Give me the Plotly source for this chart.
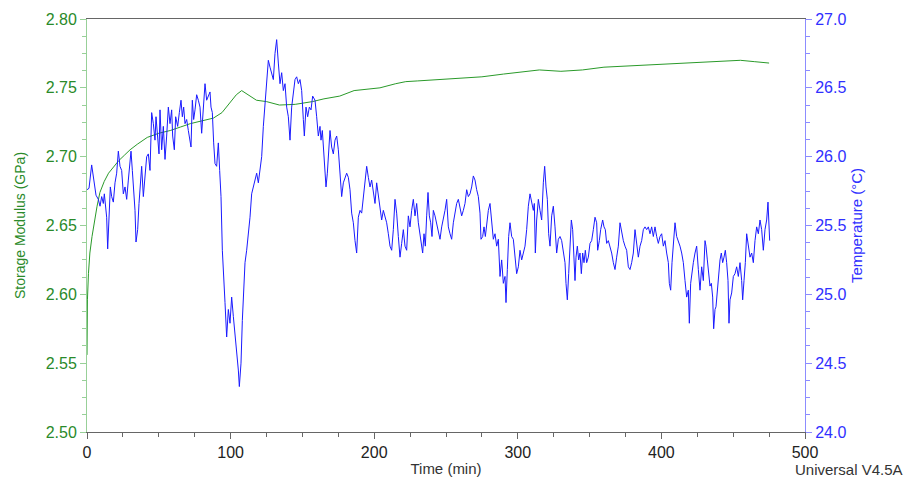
import plotly.graph_objects as go

# Storage modulus (GPa) vs time (min)
mod_time = [0, 0.3, 1, 2, 3.5, 5, 7, 9, 12, 15, 18, 22, 26, 30, 35, 42, 50, 58, 65, 72, 80, 88, 94,
            100, 104, 107.7, 112, 118, 125, 134, 145, 157, 165, 176, 186, 195, 204, 215, 222, 230,
            245, 260, 275, 290, 300, 315, 330, 345, 360, 380, 400, 420, 440, 455, 465, 475]
mod_val = [2.556, 2.596, 2.615, 2.630, 2.642, 2.652, 2.664, 2.674, 2.682, 2.688, 2.692, 2.697, 2.701,
           2.705, 2.709, 2.714, 2.717, 2.719, 2.7215, 2.724, 2.726, 2.728, 2.732, 2.740, 2.745, 2.748,
           2.745, 2.741, 2.740, 2.7375, 2.738, 2.740, 2.742, 2.744, 2.748, 2.749, 2.750, 2.753, 2.7545,
           2.755, 2.756, 2.757, 2.758, 2.760, 2.761, 2.763, 2.762, 2.763, 2.765, 2.766, 2.767, 2.768,
           2.769, 2.770, 2.769, 2.768]

# Temperature (°C) vs time (min)
temp_time = [0, 1.39, 3.25, 4.41, 6.27, 7.89, 9.05, 10.22, 11.38, 12.07, 13.0, 13.7, 14.4, 15.32, 16.25,
             17.18, 18.34, 19.5, 20.66, 21.82, 22.98, 24.14, 25.3, 26.47, 27.63, 28.79, 29.95, 30.64,
             31.57, 32.27, 33.43, 34.12, 35.28, 36.21, 37.14, 38.07, 39.23, 40.39, 41.55, 42.71, 43.87,
             44.57, 45.03, 46.2, 47.36, 48.05, 49.21, 50.14, 50.84, 52.0, 53.16, 54.32, 55.48, 56.64,
             57.8, 58.96, 59.66, 60.82, 61.75, 63.14, 64.3, 65.46, 66.39, 67.32, 68.25, 69.41, 70.57,
             72.43, 73.35, 74.28, 75.21, 76.37, 77.53, 78.69, 79.85, 81.01, 82.17, 83.33, 84.5, 85.66,
             86.35, 87.28, 88.21, 89.14, 90.3, 91.46, 92.39, 93.32, 94.24, 95.17, 96.1, 97.26, 98.42,
             99.58, 100.74, 101.9, 103.06, 104.22, 105.38, 106.08, 107.24, 108.17, 109.1, 110.03,
             111.19, 112.35, 113.51, 114.67, 115.83, 117.0, 118.16, 119.32, 120.48, 121.64, 122.8,
             123.96, 125.12, 126.28, 127.44, 128.6, 129.76, 130.92, 132.08, 133.24, 134.4, 135.57,
             136.73, 137.89, 139.05, 140.21, 141.37, 142.53, 143.69, 144.85, 146.01, 147.17, 148.33,
             149.49, 150.65, 151.35, 152.51, 153.67, 154.83, 155.99, 157.15, 158.78, 159.94, 161.1,
             162.26, 162.96, 163.88, 164.58, 165.74, 166.44, 167.37, 168.3, 169.22, 170.38, 171.54,
             172.71, 173.87, 175.03, 176.19, 177.35, 178.51, 179.67, 180.83, 181.99, 183.15, 184.31,
             185.47, 186.63, 187.79, 188.95, 190.11, 191.27, 192.44, 193.6, 194.76, 195.92, 197.08,
             198.24, 199.4, 200.56, 201.72, 202.88, 204.04, 205.2, 206.36, 207.52, 208.68, 209.85,
             211.01, 212.17, 213.33, 214.49, 215.65, 216.81, 217.97, 219.13, 220.29, 221.45, 222.61,
             223.77, 224.93, 226.09, 227.25, 228.42, 229.58, 230.74, 231.9, 233.06, 233.75, 234.68,
             235.61, 236.54, 237.47, 238.4, 239.33, 240.25, 241.18, 242.34, 243.5, 244.66, 245.83,
             246.99, 248.15, 249.31, 250.47, 251.63, 252.79, 253.95, 255.11, 256.27, 257.43, 258.59,
             259.75, 260.91, 262.07, 263.23, 264.4, 265.56, 266.72, 267.88, 269.04, 270.2, 271.36,
             272.52, 273.68, 274.38, 275.54, 276.47, 277.4, 278.32, 279.48, 280.64, 281.81, 282.97,
             284.13, 285.29, 286.45, 287.61, 288.77, 289.93, 291.09, 291.79, 292.71, 293.64, 294.57,
             295.73, 296.89, 298.05, 299.21, 300.38, 301.54, 302.7, 303.86, 305.02, 306.18, 307.34,
             308.5, 309.66, 310.82, 311.52, 312.21, 313.14, 314.3, 315.46, 316.62, 317.78, 318.71,
             319.64, 320.57, 321.5, 322.43, 323.59, 324.75, 325.91, 327.07, 328.23, 329.39, 330.55,
             331.71, 332.87, 333.57, 334.5, 335.43, 336.35, 337.28, 338.21, 339.14, 339.84, 340.53,
             341.46, 342.39, 343.32, 344.25, 345.17, 346.1, 347.03, 347.96, 349.12, 350.28, 351.44,
             352.6, 353.76, 354.92, 355.62, 356.78, 357.71, 359.1, 360.03, 360.96, 361.89, 363.05,
             364.21, 365.37, 366.53, 367.69, 368.85, 370.01, 371.17, 372.33, 373.49, 374.65, 375.81,
             376.98, 378.14, 379.3, 380.46, 381.62, 382.78, 383.94, 385.1, 386.26, 387.42, 388.58,
             389.74, 390.9, 392.06, 393.22, 394.39, 395.55, 396.71, 397.87, 399.03, 400.19, 401.35,
             402.51, 403.67, 404.83, 405.53, 406.46, 407.39, 408.31, 409.47, 410.63, 411.8, 412.96,
             414.12, 415.28, 416.44, 417.6, 418.76, 419.45, 420.38, 421.31, 422.24, 423.4, 424.56,
             425.72, 426.88, 428.04, 429.2, 430.36, 431.06, 431.99, 432.92, 433.84, 434.77, 435.7,
             436.4, 437.33, 438.02, 438.95, 439.88, 440.81, 441.74, 442.66, 443.59, 444.52, 445.45,
             446.38, 447.07, 447.77, 448.93, 450.09, 451.25, 452.41, 453.57, 454.74, 455.9, 456.59,
             457.52, 458.45, 459.38, 460.54, 461.7, 462.86, 464.02, 465.18, 466.34, 467.5, 468.66,
             469.82, 470.98, 472.14, 473.3, 474.23, 474.93, 475.4]
temp_val = [25.76, 25.77, 25.94, 25.86, 25.72, 25.69, 25.64, 25.71, 25.66, 25.73, 25.59, 25.56, 25.33,
            25.61, 25.78, 25.71, 25.67, 25.81, 25.88, 26.04, 25.93, 25.90, 25.73, 25.78, 25.69, 25.83,
            25.95, 26.04, 25.90, 25.78, 25.61, 25.38, 25.47, 25.66, 25.83, 25.93, 25.71, 25.86, 26.00,
            26.02, 25.90, 26.15, 26.32, 26.24, 26.12, 26.29, 26.15, 26.02, 26.34, 26.05, 26.22, 25.98,
            26.15, 26.36, 26.24, 26.34, 26.15, 26.05, 26.29, 26.22, 26.32, 26.41, 26.29, 26.36, 26.24,
            26.27, 26.19, 26.07, 26.41, 26.27, 26.34, 26.45, 26.41, 26.36, 26.17, 26.39, 26.53, 26.41,
            26.44, 26.47, 26.36, 26.32, 26.10, 25.95, 25.93, 26.10, 25.90, 25.71, 25.32, 25.08, 24.94,
            24.69, 24.89, 24.79, 24.98, 24.84, 24.72, 24.60, 24.45, 24.33, 24.50, 24.81, 25.01, 25.23,
            25.32, 25.42, 25.56, 25.73, 25.78, 25.85, 25.88, 25.81, 25.90, 26.00, 26.22, 26.39, 26.51,
            26.70, 26.65, 26.61, 26.56, 26.75, 26.85, 26.68, 26.53, 26.61, 26.48, 26.53, 26.36, 26.29,
            26.12, 26.36, 26.48, 26.56, 26.58, 26.53, 26.56, 26.48, 26.27, 26.15, 26.36, 26.29, 26.36,
            26.34, 26.44, 26.41, 26.29, 26.15, 26.22, 26.12, 26.19, 26.07, 25.90, 25.78, 25.88, 26.05,
            26.19, 26.07, 26.02, 26.12, 26.15, 26.05, 25.85, 25.71, 25.81, 25.85, 25.88, 25.85, 25.76,
            25.59, 25.52, 25.39, 25.30, 25.56, 25.61, 25.59, 25.71, 25.83, 25.93, 25.85, 25.78, 25.83,
            25.73, 25.66, 25.81, 25.71, 25.64, 25.54, 25.61, 25.56, 25.52, 25.44, 25.35, 25.32, 25.47,
            25.69, 25.59, 25.42, 25.27, 25.37, 25.47, 25.35, 25.32, 25.57, 25.49, 25.61, 25.69, 25.57,
            25.66, 25.52, 25.44, 25.37, 25.30, 25.44, 25.35, 25.57, 25.74, 25.57, 25.52, 25.42, 25.61,
            25.57, 25.52, 25.47, 25.40, 25.49, 25.54, 25.61, 25.69, 25.49, 25.44, 25.40, 25.52, 25.61,
            25.66, 25.69, 25.64, 25.57, 25.61, 25.66, 25.76, 25.71, 25.73, 25.78, 25.86, 25.83, 25.76,
            25.71, 25.59, 25.40, 25.42, 25.49, 25.42, 25.52, 25.61, 25.66, 25.54, 25.40, 25.44, 25.35,
            25.40, 25.13, 25.25, 25.08, 25.13, 24.94, 25.18, 25.42, 25.52, 25.42, 25.40, 25.25, 25.15,
            25.20, 25.32, 25.25, 25.30, 25.35, 25.47, 25.64, 25.73, 25.66, 25.61, 25.66, 25.30, 25.54,
            25.69, 25.61, 25.54, 25.81, 25.93, 25.78, 25.69, 25.44, 25.35, 25.57, 25.64, 25.49, 25.30,
            25.40, 25.42, 25.39, 25.32, 25.23, 25.08, 24.96, 25.15, 25.35, 25.54, 25.47, 25.27, 25.10,
            25.27, 25.35, 25.25, 25.30, 25.15, 25.30, 25.23, 25.32, 25.23, 25.27, 25.37, 25.39, 25.47,
            25.56, 25.52, 25.32, 25.39, 25.47, 25.54, 25.49, 25.47, 25.37, 25.39, 25.35, 25.30, 25.23,
            25.18, 25.27, 25.35, 25.52, 25.44, 25.39, 25.35, 25.32, 25.20, 25.18, 25.23, 25.30, 25.47,
            25.37, 25.27, 25.35, 25.39, 25.47, 25.49, 25.47, 25.49, 25.44, 25.49, 25.42, 25.49, 25.42,
            25.37, 25.42, 25.44, 25.35, 25.39, 25.30, 25.23, 25.08, 25.03, 25.23, 25.35, 25.52, 25.42,
            25.39, 25.35, 25.30, 25.23, 25.10, 24.98, 25.03, 24.79, 25.08, 25.18, 25.23, 25.30, 25.35,
            25.18, 25.03, 25.20, 25.10, 25.39, 25.35, 25.25, 25.15, 25.06, 25.08, 24.98, 24.75, 24.89,
            24.91, 25.03, 25.13, 25.25, 25.30, 25.23, 25.27, 25.32, 25.23, 25.10, 24.79, 24.96, 25.01,
            25.13, 25.15, 25.20, 25.13, 25.23, 25.10, 24.96, 25.10, 25.23, 25.44, 25.35, 25.27, 25.30,
            25.23, 25.39, 25.49, 25.44, 25.54, 25.47, 25.32, 25.47, 25.54, 25.67, 25.54, 25.39]

x_ticks = [0, 100, 200, 300, 400, 500]

GREEN_TXT = "#2a8a2a"
GREEN_LINE = "#2a9a2a"
GREEN_AX = "#98d098"
BLUE_TXT = "#3030ff"
BLUE_LINE = "#1a1aff"
BLUE_AX = "#8c8cff"
GRAY = "#666666"
FONT = "Liberation Sans, Arial, sans-serif"

fig = go.Figure()
fig.add_trace(go.Scatter(x=mod_time, y=mod_val, mode="lines", line=dict(color=GREEN_LINE, width=1),
                         name="Storage Modulus", yaxis="y"))
fig.add_trace(go.Scatter(x=temp_time, y=temp_val, mode="lines", line=dict(color=BLUE_LINE, width=1),
                         name="Temperature", yaxis="y2"))

fig.update_layout(
    width=908, height=477,
    margin=dict(l=87, r=103, t=19, b=45, autoexpand=False),
    paper_bgcolor="white", plot_bgcolor="white",
    showlegend=False,
    font=dict(family=FONT),
    xaxis=dict(range=[0, 500], tickvals=x_ticks, ticks="outside", ticklen=6, tickcolor=GRAY,
               showline=True, linecolor=GRAY, linewidth=1, mirror=True, showgrid=False, zeroline=False,
               automargin=False,
               tickfont=dict(size=16, color="#222222"),
               title=dict(text="Time (min)", font=dict(size=15, color="#333333"), standoff=3),
               minor=dict(dtick=25, ticks="outside", ticklen=4, tickcolor=GRAY)),
    yaxis=dict(range=[2.5, 2.8], dtick=0.05, tickformat=".2f", ticks="outside", ticklen=6,
               tickcolor=GREEN_AX, showline=True, linecolor=GREEN_AX, linewidth=1, automargin=False,
               showgrid=False, zeroline=False, tickfont=dict(size=16, color=GREEN_TXT),
               title=dict(text="Storage Modulus (GPa)", font=dict(size=14, color=GREEN_TXT), standoff=16),
               minor=dict(dtick=0.0125, ticks="outside", ticklen=4, tickcolor=GREEN_AX)),
    yaxis2=dict(range=[24, 27], dtick=0.5, tickformat=".1f", overlaying="y", side="right",
                ticks="outside", ticklen=6, tickcolor=BLUE_AX, showline=True, linecolor=BLUE_AX,
                linewidth=1, showgrid=False, zeroline=False, automargin=False,
                tickfont=dict(size=16, color=BLUE_TXT),
                title=dict(text="Temperature (°C)", font=dict(size=15, color=BLUE_TXT), standoff=6),
                minor=dict(dtick=0.125, ticks="outside", ticklen=4, tickcolor=BLUE_AX)),
    annotations=[dict(text="Universal V4.5A", xref="paper", yref="paper", x=1.0, y=0,
                      xanchor="left", yanchor="top", xshift=-12, yshift=-27, showarrow=False,
                      font=dict(size=15, color="#333333"))],
)

fig.write_html("out.html")
